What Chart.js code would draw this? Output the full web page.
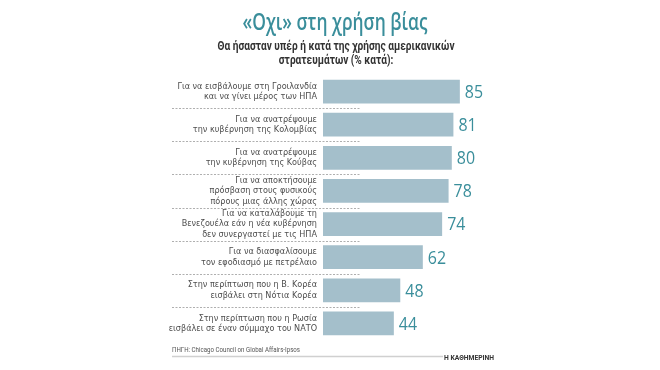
<!DOCTYPE html>
<html><head><meta charset="utf-8">
<script src="https://cdn.jsdelivr.net/npm/chart.js@4"></script>
<style>html,body{margin:0;padding:0;background:#fff}#wrap{width:660px;height:370px;position:relative}</style>
</head><body><div id="wrap"><canvas id="c" width="660" height="370"></canvas></div>
<script>
const titleText = "«Οχι» στη χρήση βίας";
const subtitleLines = ["Θα ήσασταν υπέρ ή κατά της χρήσης αμερικανικών", "στρατευμάτων (% κατά):"];
const categories = [
  ["Για να εισβάλουμε στη Γροιλανδία", "και να γίνει μέρος των ΗΠΑ"],
  ["Για να ανατρέψουμε", "την κυβέρνηση της Κολομβίας"],
  ["Για να ανατρέψουμε", "την κυβέρνηση της Κούβας"],
  ["Για να αποκτήσουμε", "πρόσβαση στους φυσικούς", "πόρους μιας άλλης χώρας"],
  ["Για να καταλάβουμε τη", "Βενεζουέλα εάν η νέα κυβέρνηση", "δεν συνεργαστεί με τις ΗΠΑ"],
  ["Για να διασφαλίσουμε", "τον εφοδιασμό με πετρέλαιο"],
  ["Στην περίπτωση που η Β. Κορέα", "εισβάλει στη Νότια Κορέα"],
  ["Στην περίπτωση που η Ρωσία", "εισβάλει σε έναν σύμμαχο του ΝΑΤΟ"]
];
const values = [85, 81, 80, 78, 74, 62, 48, 44];
const sourceText = "ΠΗΓΗ: Chicago Council on Global Affairs-Ipsos";
const brandText = "Η ΚΑΘΗΜΕΡΙΝΗ";

const TEAL = "#3a8e9b";
const COND = "'DejaVu Sans Condensed', 'DejaVu Sans', sans-serif";

function fitText(ctx, text, x, y, font, sx, align) {
  ctx.save();
  ctx.font = font;
  ctx.textAlign = align;
  ctx.translate(x, y);
  ctx.scale(sx, 1);
  ctx.fillText(text, 0, 0);
  ctx.restore();
}
function widthScale(ctx, text, font, target) {
  ctx.save(); ctx.font = font; const w = ctx.measureText(text).width; ctx.restore();
  return target / w;
}

const decor = {
  id: "decor",
  beforeDatasetsDraw(chart) {
    const ctx = chart.ctx, y = chart.scales.y;
    ctx.save();
    ctx.strokeStyle = "#9a9a9a";
    ctx.lineWidth = 0.8;
    ctx.setLineDash([2, 1.5]);
    for (let i = 0; i < values.length - 1; i++) {
      const yy = Math.round((y.getPixelForValue(i) + y.getPixelForValue(i + 1)) / 2) + 0.5;
      ctx.beginPath(); ctx.moveTo(172, yy); ctx.lineTo(360, yy); ctx.stroke();
    }
    ctx.restore();
  },
  afterDatasetsDraw(chart) {
    const ctx = chart.ctx;
    const meta = chart.getDatasetMeta(0);
    ctx.save();
    ctx.fillStyle = TEAL;
    ctx.textBaseline = "middle";
    const numFont = "400 19px 'Open Sans', sans-serif";
    meta.data.forEach((bar, i) => {
      fitText(ctx, String(values[i]), bar.x + 5, bar.y + 1, numFont, 0.84, "left");
    });
    ctx.textBaseline = "alphabetic";
    // title
    const tFont = "600 23px 'Open Sans', sans-serif";
    ctx.fillStyle = TEAL;
    fitText(ctx, titleText, 335, 30, tFont, widthScale(ctx, titleText, tFont, 185), "center");
    // subtitle
    const sFont = "bold 12.5px 'Roboto', sans-serif";
    ctx.fillStyle = "#333";
    const ss = widthScale(ctx, subtitleLines[0], sFont, 237);
    fitText(ctx, subtitleLines[0], 336, 50, sFont, ss, "center");
    fitText(ctx, subtitleLines[1], 336, 64, sFont, ss, "center");
    // footer
    const fFont = "7.5px 'Roboto', sans-serif";
    ctx.fillStyle = "#555";
    fitText(ctx, sourceText, 172, 352, fFont, widthScale(ctx, sourceText, fFont, 128), "left");
    ctx.strokeStyle = "#d0d0d0";
    ctx.lineWidth = 1.5;
    ctx.beginPath(); ctx.moveTo(172, 356.5); ctx.lineTo(443, 356.5); ctx.stroke();
    const bFont = "bold 8px 'Roboto', sans-serif";
    ctx.fillStyle = "#333";
    fitText(ctx, brandText, 444, 360, bFont, widthScale(ctx, brandText, bFont, 50), "left");
    ctx.restore();
  }
};

new Chart(document.getElementById("c"), {
  type: "bar",
  data: {
    labels: categories,
    datasets: [{ data: values, backgroundColor: "#a4bfcb", borderWidth: 0, barPercentage: 0.72, categoryPercentage: 1 }]
  },
  options: {
    indexAxis: "y",
    responsive: false,
    animation: false,
    devicePixelRatio: 1,
    layout: { padding: { left: 0, right: 176, top: 75, bottom: 30 } },
    plugins: { legend: { display: false }, tooltip: { enabled: false } },
    scales: {
      x: { display: false, min: 0, max: 100 },
      y: {
        afterFit(scale) { scale.width = 323; },
        grid: { display: false, drawTicks: false },
        border: { display: false },
        ticks: { autoSkip: false, color: "#4d4d4d", padding: 6, font: { family: COND, size: 9, lineHeight: 1.17 } }
      }
    }
  },
  plugins: [decor]
});
</script></body></html>
